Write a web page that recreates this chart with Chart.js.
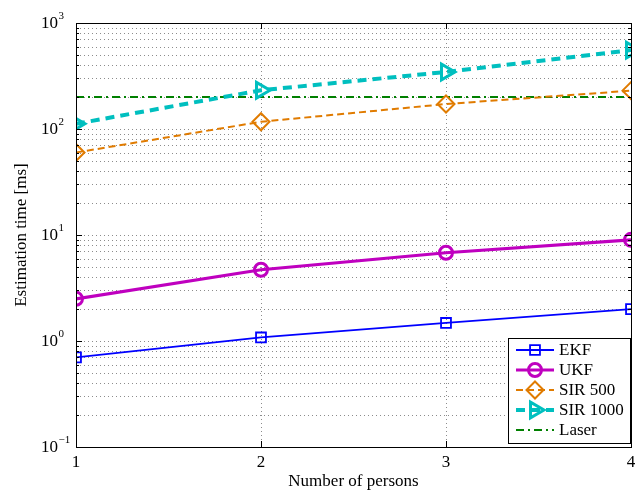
<!DOCTYPE html>
<html>
<head>
<meta charset="utf-8">
<script src="https://cdn.jsdelivr.net/npm/chart.js@4.4.0/dist/chart.umd.min.js"></script>
<style>
  html, body { margin: 0; padding: 0; background: #fff; }
  canvas { display: block; }
</style>
</head>
<body>
<canvas id="chart" width="643" height="493"></canvas>
<script>
// Data
const persons = [1, 2, 3, 4];
const ekf = [0.7, 1.08, 1.48, 2.0];
const ukf = [2.5, 4.7, 6.8, 9.0];
const sir500 = [60, 117, 172, 230];
const sir1000 = [112, 232, 345, 555];
const laser = [200, 200, 200, 200];
const xTickLabels = ['1', '2', '3', '4'];
const yExponents = ['\u22121', '0', '1', '2', '3'];
const yMajor = [0.1, 1, 10, 100, 1000];
const legendNames = ['EKF', 'UKF', 'SIR 500', 'SIR 1000', 'Laser'];

const FONT = '"Liberation Serif", "Times New Roman", serif';

// minor grid values 2..9 of each decade
const yGrid = [];
yMajor.slice(0, -1).forEach(d => { for (let k = 1; k < 10; k++) yGrid.push(d * k); });
yGrid.push(1000);

const pts = arr => arr.map((v, i) => ({ x: persons[i], y: v }));

const datasets = [
  { label: legendNames[0], data: pts(ekf), borderColor: '#0000ff', borderWidth: 1.8,
    pointStyle: 'rect', pointRadius: 7, pointBorderWidth: 1.8 },
  { label: legendNames[1], data: pts(ukf), borderColor: '#bf00bf', borderWidth: 3.2,
    pointStyle: 'circle', pointRadius: 6.5, pointBorderWidth: 3 },
  { label: legendNames[2], data: pts(sir500), borderColor: '#e07b00', borderWidth: 2,
    borderDash: [7, 4], pointStyle: 'rectRot', pointRadius: 8.5, pointBorderWidth: 2 },
  { label: legendNames[3], data: pts(sir1000), borderColor: '#00bfbf', borderWidth: 4,
    borderDash: [9, 6], pointStyle: 'triangle', pointRotation: 90, pointRadius: 9, pointBorderWidth: 3 },
  { label: legendNames[4], data: pts(laser), borderColor: '#008000', borderWidth: 2,
    borderDash: [8, 4, 2, 4], pointRadius: 0 }
];
datasets.forEach(d => {
  d.backgroundColor = 'rgba(0,0,0,0)';
  d.pointBackgroundColor = 'rgba(0,0,0,0)';
  d.pointBorderColor = d.borderColor;
  d.fill = false;
  d.tension = 0;
});

function line(ctx, x1, y1, x2, y2) {
  ctx.beginPath(); ctx.moveTo(x1, y1); ctx.lineTo(x2, y2); ctx.stroke();
}

function marker(ctx, ds, x, y) {
  if (!ds.pointRadius) return;
  ctx.save();
  ctx.setLineDash([]);
  ctx.strokeStyle = ds.borderColor;
  ctx.lineWidth = ds.pointBorderWidth;
  const r = ds.pointRadius;
  ctx.beginPath();
  if (ds.pointStyle === 'rect') {
    const s = r * Math.SQRT1_2;
    ctx.rect(x - s, y - s, 2 * s, 2 * s);
  } else if (ds.pointStyle === 'circle') {
    ctx.arc(x, y, r, 0, Math.PI * 2);
  } else if (ds.pointStyle === 'rectRot') {
    ctx.moveTo(x, y - r); ctx.lineTo(x + r, y); ctx.lineTo(x, y + r); ctx.lineTo(x - r, y); ctx.closePath();
  } else if (ds.pointStyle === 'triangle') {
    for (let k = 0; k < 3; k++) {
      const a = k * 2 * Math.PI / 3;
      const px = x + Math.cos(a) * r, py = y + Math.sin(a) * r;
      k ? ctx.lineTo(px, py) : ctx.moveTo(px, py);
    }
    ctx.closePath();
  }
  ctx.stroke();
  ctx.restore();
}

const decor = {
  id: 'decor',
  beforeDatasetsDraw(chart) {
    const { ctx, chartArea: a, scales: { x, y } } = chart;
    ctx.save();
    ctx.strokeStyle = '#8c8c8c';
    ctx.lineWidth = 1;
    ctx.setLineDash([1, 3]);
    yGrid.forEach(v => {
      const py = Math.round(y.getPixelForValue(v)) + 0.5;
      line(ctx, a.left, py, a.right, py);
    });
    persons.slice(1, -1).forEach(v => {
      const px = Math.round(x.getPixelForValue(v)) + 0.5;
      line(ctx, px, a.top, px, a.bottom);
    });
    ctx.restore();
  },
  afterDraw(chart) {
    const { ctx, chartArea: a, scales: { x, y } } = chart;
    ctx.save();
    ctx.strokeStyle = '#000';
    ctx.lineWidth = 1;
    ctx.setLineDash([]);
    // frame
    ctx.strokeRect(Math.round(a.left) + 0.5, Math.round(a.top) + 0.5,
      Math.round(a.right - a.left), Math.round(a.bottom - a.top));
    // inward ticks
    yGrid.forEach(v => {
      const py = Math.round(y.getPixelForValue(v)) + 0.5;
      const len = yMajor.includes(v) ? 6 : 3;
      line(ctx, a.left, py, a.left + len, py);
      line(ctx, a.right, py, a.right - len, py);
    });
    persons.forEach(v => {
      const px = Math.round(x.getPixelForValue(v)) + 0.5;
      line(ctx, px, a.bottom, px, a.bottom - 6);
      line(ctx, px, a.top, px, a.top + 6);
    });

    // tick labels
    ctx.fillStyle = '#000';
    ctx.textBaseline = 'middle';
    yMajor.forEach((v, i) => {
      const py = y.getPixelForValue(v);
      ctx.textAlign = 'right';
      ctx.font = '17px ' + FONT;
      ctx.fillText('10', 58, py + 1);
      ctx.textAlign = 'left';
      ctx.font = '11px ' + FONT;
      ctx.fillText(yExponents[i], 58.5, py - 7);
    });
    ctx.font = '17px ' + FONT;
    ctx.textAlign = 'center';
    ctx.textBaseline = 'top';
    persons.forEach((v, i) => ctx.fillText(xTickLabels[i], x.getPixelForValue(v), a.bottom + 7));

    // axis titles
    ctx.font = '17px ' + FONT;
    ctx.fillText('Number of persons', (a.left + a.right) / 2, a.bottom + 26);
    ctx.save();
    ctx.translate(22, (a.top + a.bottom) / 2);
    ctx.rotate(-Math.PI / 2);
    ctx.textBaseline = 'middle';
    ctx.fillText('Estimation time [ms]', 0, 0);
    ctx.restore();

    // legend
    const lx = 508, ly = 338, lw = 122, lh = 105;
    ctx.fillStyle = '#fff';
    ctx.fillRect(lx, ly, lw, lh);
    ctx.strokeRect(lx + 0.5, ly + 0.5, lw, lh);
    chart.data.datasets.forEach((ds, i) => {
      const cy = ly + 12 + i * 20;
      ctx.save();
      ctx.strokeStyle = ds.borderColor;
      ctx.lineWidth = ds.borderWidth;
      ctx.setLineDash(ds.borderDash || []);
      line(ctx, lx + 8, cy, lx + 46, cy);
      ctx.restore();
      marker(ctx, ds, lx + 27, cy);
      ctx.fillStyle = '#000';
      ctx.font = '17px ' + FONT;
      ctx.textAlign = 'left';
      ctx.textBaseline = 'middle';
      ctx.fillText(ds.label, lx + 51, cy + 1);
    });
    ctx.restore();
  }
};

new Chart(document.getElementById('chart'), {
  type: 'line',
  data: { datasets },
  options: {
    responsive: false,
    animation: false,
    devicePixelRatio: 1,
    layout: { padding: { top: 23, right: 9, left: 0, bottom: 0 } },
    plugins: { legend: { display: false }, tooltip: { enabled: false } },
    scales: {
      x: {
        type: 'linear', min: 1, max: 4,
        grid: { display: false }, border: { display: false },
        ticks: { display: false },
        afterFit: s => { s.height = 46; }
      },
      y: {
        type: 'logarithmic', min: 0.1, max: 1000,
        grid: { display: false }, border: { display: false },
        ticks: { display: false },
        afterFit: s => { s.width = 76; }
      }
    }
  },
  plugins: [decor]
});
</script>
</body>
</html>
